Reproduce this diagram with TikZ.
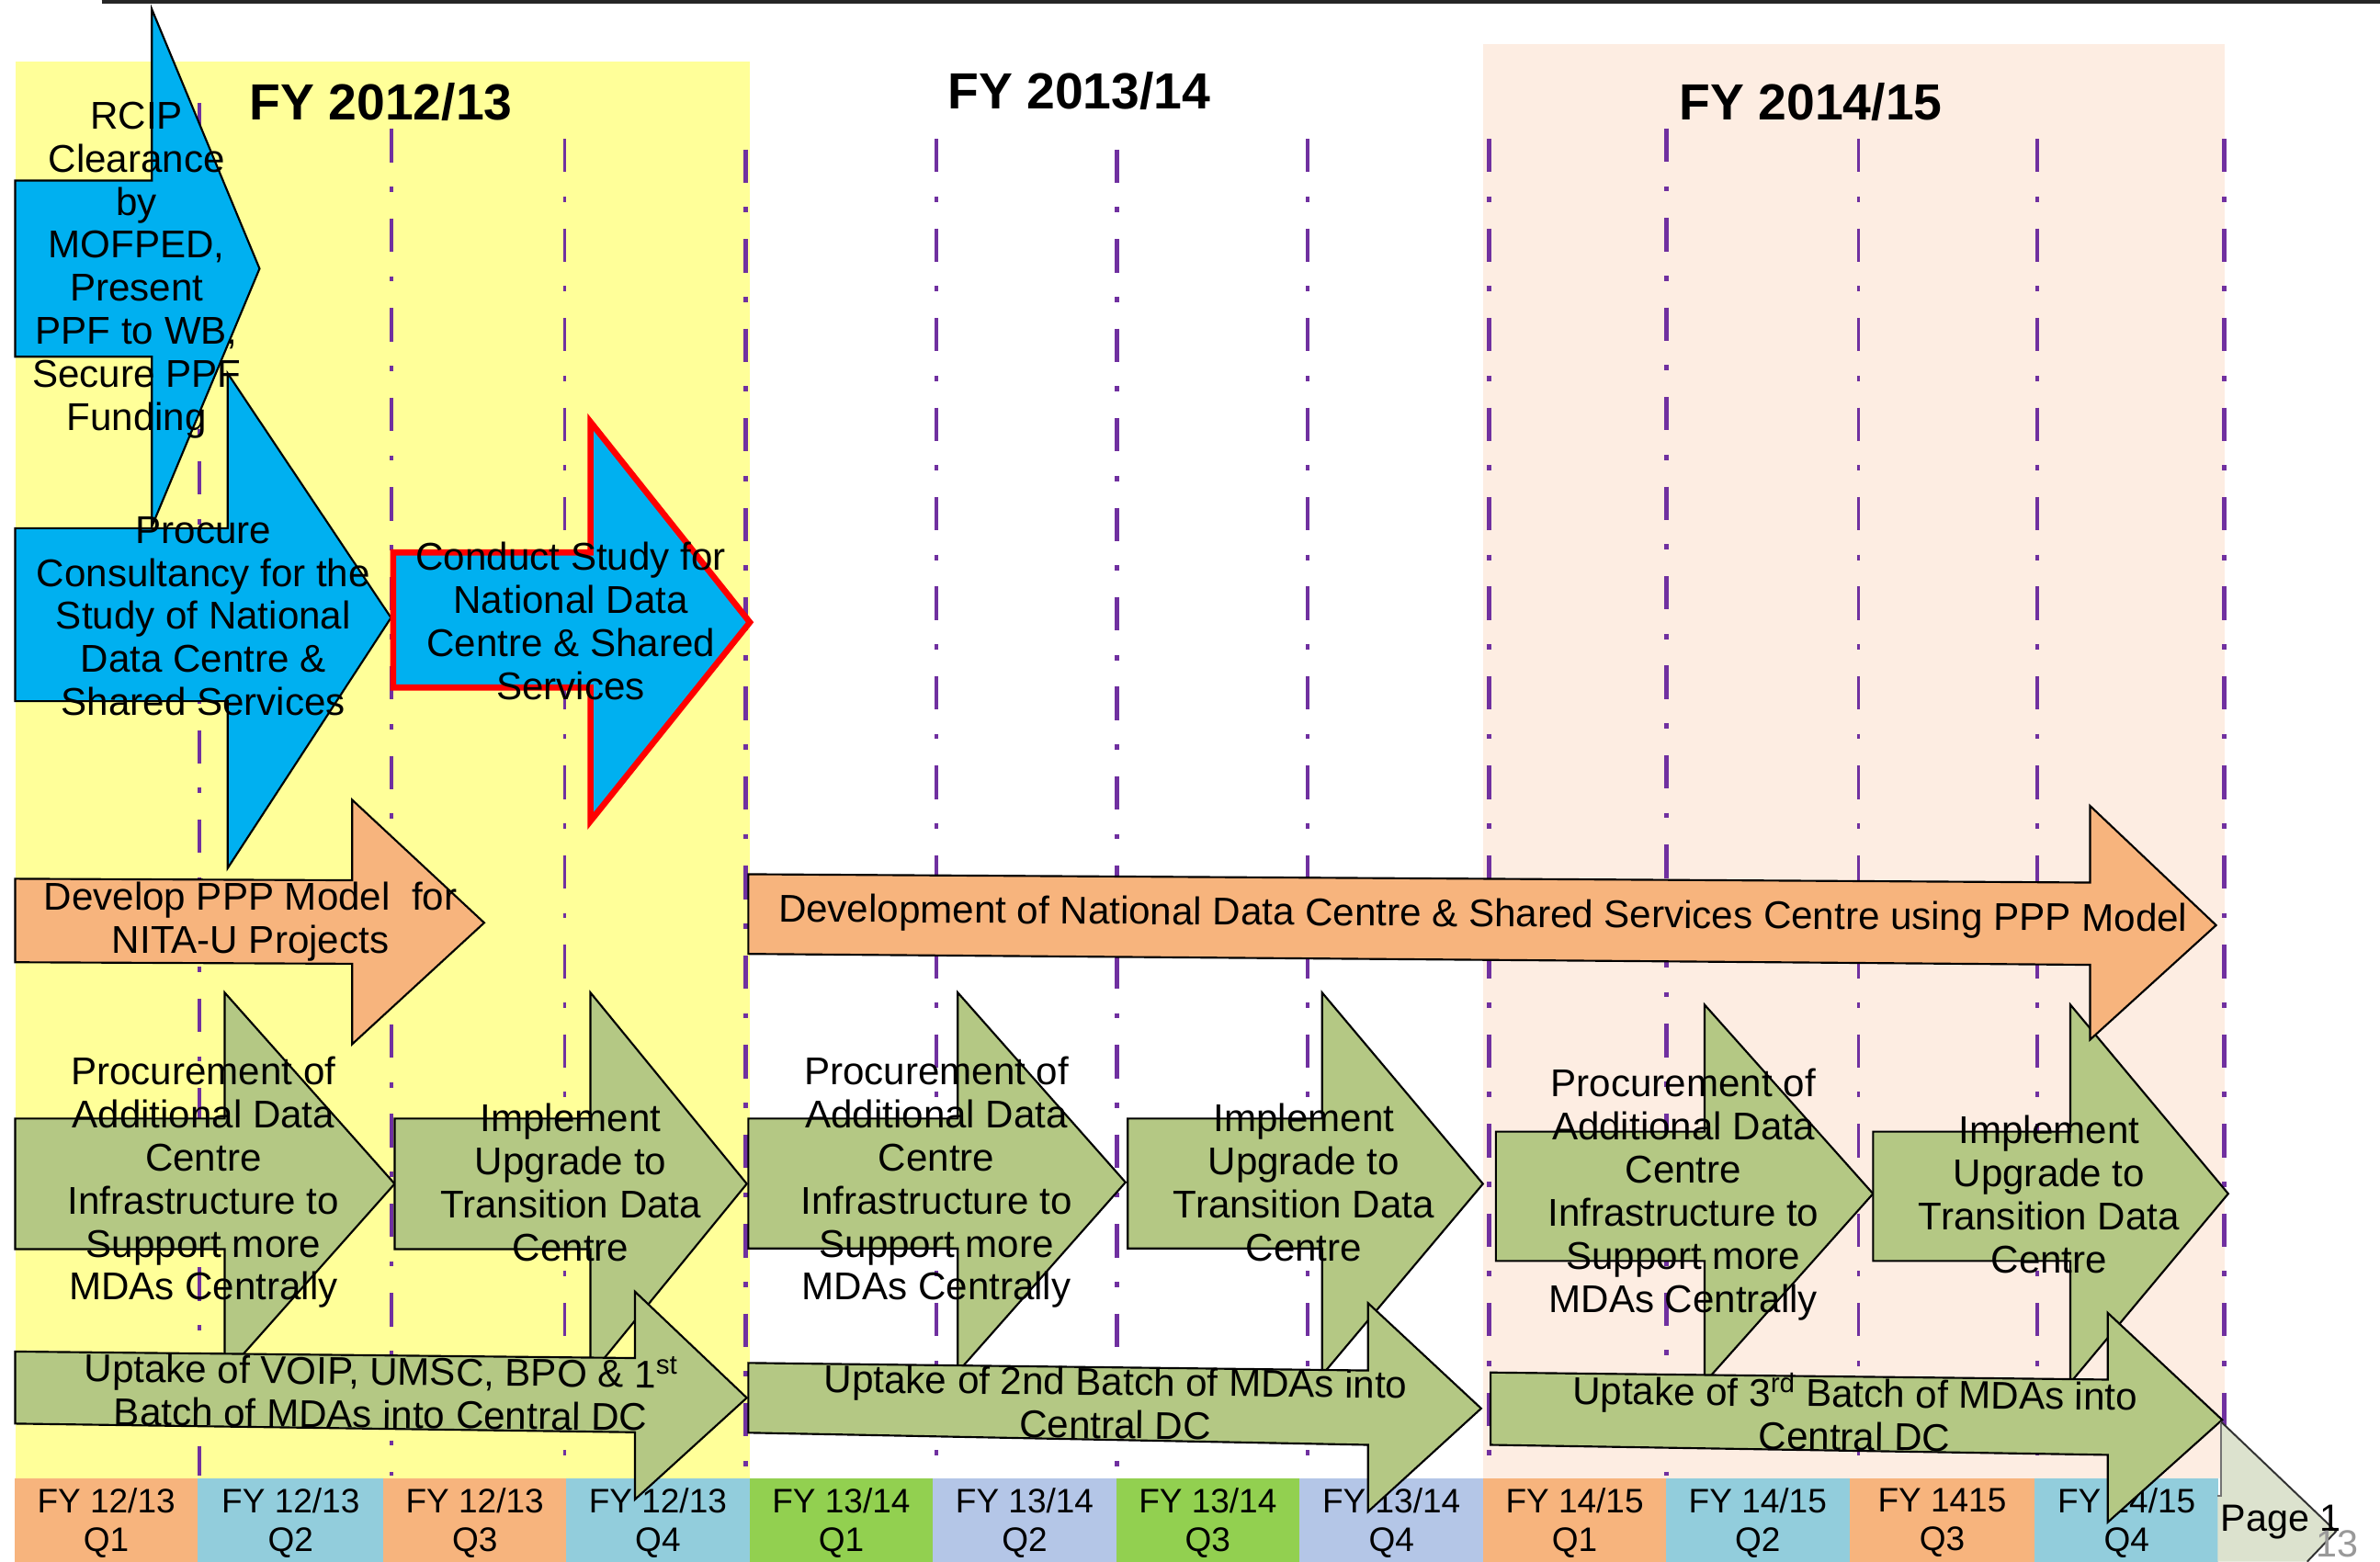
\documentclass[tikz,border=0pt]{standalone}
\usepackage{fontspec}
\setmainfont{Liberation Sans}
\definecolor{yband}{RGB}{255,255,153}
\definecolor{pband}{RGB}{253,237,226}
\definecolor{ablue}{RGB}{0,176,240}
\definecolor{aorange}{RGB}{247,180,125}
\definecolor{agreen}{RGB}{180,200,132}
\definecolor{qblue}{RGB}{146,205,220}
\definecolor{qgreen}{RGB}{146,208,80}
\definecolor{qgray}{RGB}{180,198,231}
\definecolor{vpurple}{RGB}{112,48,160}
\definecolor{pagefill}{RGB}{220,226,206}
\tikzset{
  blockarrow/.style={draw=black, line width=1.3pt, line join=miter, miter limit=20},
  bluearrow/.style={blockarrow, fill=ablue},
  redarrow/.style={draw=red, line width=4pt, fill=ablue, line join=miter, miter limit=20},
  orangearrow/.style={blockarrow, fill=aorange},
  greenarrow/.style={blockarrow, fill=agreen},
  atext/.style={font=\fontsize{25.5}{28.4}\selectfont, align=center, inner sep=0pt, text=black},
  qtext/.style={font=\fontsize{22.4}{25.6}\selectfont, align=center, inner sep=0pt, text=black},
  ytitle/.style={font=\fontsize{33.5}{36}\selectfont\bfseries, inner sep=0pt, text=black},
  vthick/.style={draw=vpurple, line width=3pt, dash pattern=on 22pt off 16pt on 3.5pt off 17.5pt},
  vthin/.style={draw=vpurple, line width=2.2pt, dash pattern=on 22pt off 16pt on 3.5pt off 17.5pt},
}
\begin{document}
\begin{tikzpicture}[x=1pt,y=-1pt]
\useasboundingbox (0,0) rectangle (1568,1029);
\fill[white] (0,0) rectangle (1568,1029);
% year bands
\fill[yband] (10.5,40.5) rectangle (494,974);
\fill[pband] (977,29) rectangle (1465.5,974);
% top rule
\draw[line width=2.4pt, black!85] (67,1) -- (1568,1);
% quarter cells
\fill[aorange] (9.8,974) rectangle (130.3,1029);
\fill[qblue] (130.3,974) rectangle (252.6,1029);
\fill[aorange] (252.6,974) rectangle (373,1029);
\fill[qblue] (373,974) rectangle (493.8,1029);
\fill[qgreen] (493.8,974) rectangle (614.6,1029);
\fill[qgray] (614.6,974) rectangle (735.3,1029);
\fill[qgreen] (735.3,974) rectangle (856.1,1029);
\fill[qgray] (856.1,974) rectangle (977.3,1029);
\fill[aorange] (977.3,974) rectangle (1097.5,1029);
\fill[qblue] (1097.5,974) rectangle (1218.4,1029);
\fill[aorange] (1218.4,974) rectangle (1340.6,1029);
\fill[qblue] (1340.6,974) rectangle (1461.5,1029);
\node[qtext] (q1) at (70,1003.5) {FY 12/13\\Q1};
\node[qtext] (q2) at (191.5,1003.5) {FY 12/13\\Q2};
\node[qtext] (q3) at (312.8,1003.5) {FY 12/13\\Q3};
\node[qtext] (q4) at (433.4,1003.5) {FY 12/13\\Q4};
\node[qtext] (q5) at (554.2,1003.5) {FY 13/14\\Q1};
\node[qtext] (q6) at (675,1003.5) {FY 13/14\\Q2};
\node[qtext] (q7) at (795.7,1003.5) {FY 13/14\\Q3};
\node[qtext] (q8) at (916.7,1003.5) {FY 13/14\\Q4};
\node[qtext] (q9) at (1037.4,1003.5) {FY 14/15\\Q1};
\node[qtext] (q10) at (1158,1003.5) {FY 14/15\\Q2};
\node[qtext] (q11) at (1279.5,1003.5) {FY 1415\\Q3};
\node[qtext] (q12) at (1401,1003.5) {FY 14/15\\Q4};
% quarter dividers
\draw[vthin] (131.5,68) -- (131.5,972);
\draw[vthin] (258,85) -- (258,972);
\draw[vthin] (372,91.5) -- (372,972);
\draw[vthick] (491,98.5) -- (491,972);
\draw[vthin] (617,91.5) -- (617,972);
\draw[vthick] (736,98.5) -- (736,972);
\draw[vthin] (861.5,91.5) -- (861.5,972);
\draw[vthick] (981,91.5) -- (981,972);
\draw[vthick] (1098,84.6) -- (1098,972);
\draw[vthin] (1224.5,91.5) -- (1224.5,972);
\draw[vthin] (1342,91.5) -- (1342,972);
\draw[vthick] (1465.5,91.5) -- (1465.5,972);
% titles
\node[ytitle] (t1) at (251,67) {FY 2012/13};
\node[ytitle] (t2) at (711,60) {FY 2013/14};
\node[ytitle] (t3) at (1193,67) {FY 2014/15};
% blue arrows
\draw[bluearrow] (10,119) -- (100,119) -- (100,6) -- (171,177) -- (100,347) -- (100,235) -- (10,235) -- cycle;
\node[atext] (rcip) at (90,178) {RCIP\\Clearance\\by\\MOFPED,\\Present\\PPF to WB,\\Secure PPF\\Funding};
\draw[bluearrow] (10,348) -- (150,348) -- (150,246) -- (257.6,407) -- (150,572) -- (150,462) -- (10,462) -- cycle;
\node[atext] (procure) at (134,406) {Procure\\Consultancy for the\\Study of National\\Data Centre \&\\Shared Services};
\draw[redarrow] (259,364) -- (389,364) -- (389,278) -- (494,410) -- (389,541) -- (389,453) -- (259,453) -- cycle;
\node[atext] (conduct) at (376,409) {Conduct Study for\\National Data\\Centre \& Shared\\Services};
% orange arrow, FY 12/13
\draw[orangearrow] (10,579) -- (232,580) -- (232,527) -- (319,608) -- (232,688) -- (232,635) -- (10,634) -- cycle;
\node[atext] (develop) at (165,607) {Develop PPP Model\ \ for\\NITA-U Projects};
% green arrows, upper row
\draw[greenarrow] (10,737) -- (148,737) -- (148,654) -- (260,780) -- (148,906) -- (148,823) -- (10,823) -- cycle;
\node[atext] (procA) at (134,779) {Procurement of\\Additional Data\\Centre\\Infrastructure to\\Support more\\MDAs Centrally};
\draw[greenarrow] (260,737) -- (389,737) -- (389,654) -- (492,780) -- (389,906) -- (389,823) -- (260,823) -- cycle;
\node[atext] (implA) at (376,779) {Implement\\Upgrade to\\Transition Data\\Centre};
\draw[greenarrow] (493,737) -- (631,737) -- (631,654) -- (741.5,779) -- (631,904) -- (631,822.6) -- (493,822.6) -- cycle;
\node[atext] (procB) at (617,779) {Procurement of\\Additional Data\\Centre\\Infrastructure to\\Support more\\MDAs Centrally};
\draw[greenarrow] (743,737) -- (871,737) -- (871,654) -- (977,780) -- (871,906) -- (871,822.6) -- (743,822.6) -- cycle;
\node[atext] (implB) at (859,779) {Implement\\Upgrade to\\Transition Data\\Centre};
\draw[greenarrow] (985.5,745.6) -- (1123,745.6) -- (1123,662) -- (1234,786.5) -- (1123,911) -- (1123,830.8) -- (985.5,830.8) -- cycle;
\node[atext] (procC) at (1109,787) {Procurement of\\Additional Data\\Centre\\Infrastructure to\\Support more\\MDAs Centrally};
\draw[greenarrow] (1234,745.6) -- (1364,745.6) -- (1364,662) -- (1468,786.5) -- (1364,911) -- (1364,830.8) -- (1234,830.8) -- cycle;
\node[atext] (implC) at (1350,787) {Implement\\Upgrade to\\Transition Data\\Centre};
% long orange arrow (lies over the last green head)
\draw[orangearrow] (493,576) -- (1377,581.5) -- (1377,531) -- (1460,609.6) -- (1377,685) -- (1377,635.7) -- (493,628.5) -- cycle;
\node[atext, rotate=-0.4] (development) at (977,604) {Development of National Data Centre \& Shared Services Centre using PPP Model};
% green arrows, uptake row
\draw[greenarrow] (10,890.5) -- (418.3,894.8) -- (418.3,851) -- (492,921) -- (418.3,988) -- (418.3,943.7) -- (10,938) -- cycle;
\node[atext, rotate=-0.6] (uptA) at (251,916.5) {Uptake of VOIP, UMSC, BPO \& 1\textsuperscript{st}\\Batch of MDAs into Central DC};
\draw[greenarrow] (493,898) -- (901.3,903) -- (901.3,858.6) -- (975.8,928) -- (901.3,996) -- (901.3,952) -- (493,944) -- cycle;
\node[atext, rotate=-0.6] (uptB) at (735,924.5) {Uptake of 2nd Batch of MDAs into\\Central DC};
\draw[greenarrow] (982,904.3) -- (1388.6,909) -- (1388.6,865) -- (1464,935.5) -- (1388.6,1003) -- (1388.6,958.6) -- (982,952) -- cycle;
\node[atext, rotate=-0.6] (uptC) at (1222,930.5) {Uptake of 3\textsuperscript{rd} Batch of MDAs into\\Central DC};
% page corner
\fill[pagefill] (1463,936.5) -- (1539,1009) -- (1520,1029) -- (1461,1029) -- (1461,985.6) -- (1463,985.6) -- cycle;
\draw[line width=1.3pt, black!55] (1461,985.6) -- (1463,985.6) -- (1463,937.5);
\draw[line width=1.2pt, black!80] (1463,936.5) -- (1539,1009) -- (1520,1029);
\node[font=\fontsize{25}{27}\selectfont, inner sep=0pt, anchor=west] (page) at (1463,1003) {Page 1};
\node[font=\fontsize{25}{27}\selectfont, inner sep=0pt, text=black!40] (pnum) at (1540,1017) {13};
\end{tikzpicture}
\end{document}
